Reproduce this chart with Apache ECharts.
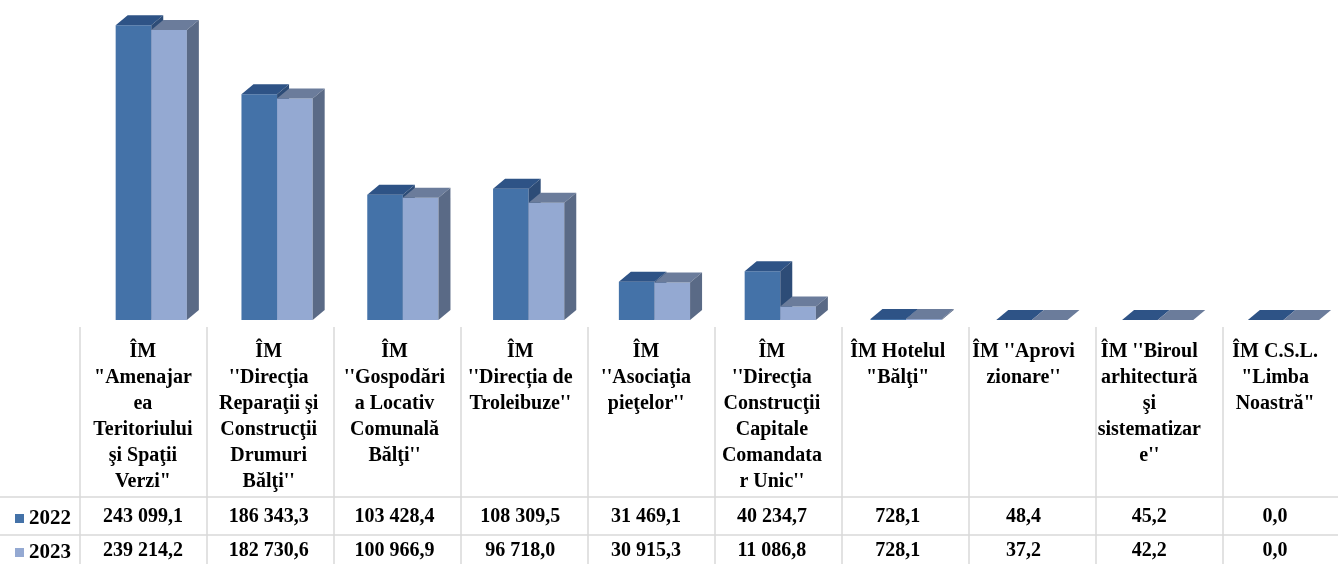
<!DOCTYPE html>
<html><head><meta charset="utf-8">
<script src="https://cdn.jsdelivr.net/npm/echarts@6/dist/echarts.min.js"></script>
<style>html,body{margin:0;padding:0;background:#fff}#c{width:1338px;height:564px}</style>
</head><body><div id="c"></div>
<script>
const categories = [
  'ÎM\n"Amenajar\nea\nTeritoriului\nşi Spaţii\nVerzi"',
  "ÎM\n''Direcţia\nReparaţii şi\nConstrucţii\nDrumuri\nBălţi''",
  "ÎM\n''Gospodări\na Locativ\nComunală\nBălţi''",
  "ÎM\n''Direcția de\nTroleibuze''",
  "ÎM\n''Asociaţia\npieţelor''",
  "ÎM\n''Direcţia\nConstrucţii\nCapitale\nComandata\nr Unic''",
  'ÎM Hotelul\n"Bălţi"',
  "ÎM ''Aprovi\nzionare''",
  "ÎM ''Biroul\narhitectură\nşi\nsistematizar\ne''",
  'ÎM C.S.L.\n"Limba\nNoastră"'
];
const seriesNames = ['2022', '2023'];
const values2022 = [243099.1, 186343.3, 103428.4, 108309.5, 31469.1, 40234.7, 728.1, 48.4, 45.2, 0.0];
const values2023 = [239214.2, 182730.6, 100966.9, 96718.0, 30915.3, 11086.8, 728.1, 37.2, 42.2, 0.0];

const frontColors = ['#4472A8', '#94A9D2'];
const topColors = ['#2E5386', '#6B7C9B'];
const sideColors = ['#2D4C77', '#5A6A86'];

function fmt(v) {
  const s = v.toFixed(1).split('.');
  return s[0].replace(/\B(?=(\d{3})+(?!\d))/g, ' ') + ',' + s[1];
}

const GL = 80, GT = 17, GW = 1270, GH = 303;
const DX = 12, DY = 10;
const FONT = 'Liberation Serif, Times New Roman, serif';

function render(si) {
  return function (params, api) {
    const cat = api.value(0);
    const v = api.value(1);
    const base = api.coord([cat, 0]);
    const top = api.coord([cat, v]);
    const band = api.size([1, 0])[0];
    const w = band * 0.283;
    const x0 = base[0] - band * 0.2165 + si * w;
    const yb = base[1], yt = top[1];
    return {
      type: 'group',
      children: [
        { type: 'rect', shape: { x: x0, y: yt, width: w, height: yb - yt }, style: { fill: frontColors[si] } },
        { type: 'polygon', shape: { points: [[x0, yt], [x0 + w, yt], [x0 + w + DX, yt - DY], [x0 + DX, yt - DY]] }, style: { fill: topColors[si] } },
        { type: 'polygon', shape: { points: [[x0 + w, yt], [x0 + w + DX, yt - DY], [x0 + w + DX, yb - DY], [x0 + w, yb]] }, style: { fill: sideColors[si] } }
      ]
    };
  };
}

const rows = [values2022, values2023];
const lineColor = '#D9D9D9';
const graphics = [];
const colW = GW / categories.length;
for (let k = 0; k < categories.length; k++) {
  const x = GL + colW * k;
  graphics.push({ type: 'line', shape: { x1: x, y1: 327, x2: x, y2: 564 }, style: { stroke: lineColor, lineWidth: 1.5 }, silent: true });
}
[497, 535].forEach(y => graphics.push({ type: 'line', shape: { x1: 0, y1: y, x2: 1338, y2: y }, style: { stroke: lineColor, lineWidth: 1.5 }, silent: true }));

const labelBase = { fontFamily: FONT, fontWeight: 'bold', fontSize: 20, color: '#000' };
const legendTops = [508, 542];

const chart = echarts.init(document.getElementById('c'), null, { renderer: 'canvas' });
chart.setOption({
  animation: false,
  backgroundColor: '#fff',
  grid: { left: GL, top: GT, width: GW, height: GH },
  legend: seriesNames.map((n, i) => ({
    left: 15, top: legendTops[i], itemWidth: 9, itemHeight: 9, padding: [0, 0, 0, 0],
    icon: 'rect', data: [n], selectedMode: false,
    textStyle: { fontFamily: FONT, fontWeight: 'bold', fontSize: 21, color: '#000' }
  })),
  xAxis: [
    { type: 'category', data: categories, axisLine: { show: false }, axisTick: { show: false },
      axisLabel: Object.assign({ interval: 0, margin: 19, lineHeight: 26, verticalAlign: 'top', align: 'center' }, labelBase) },
    { type: 'category', data: categories, position: 'bottom', offset: 197, axisLine: { show: false }, axisTick: { show: false },
      axisLabel: Object.assign({ interval: 0, margin: 0, verticalAlign: 'middle', formatter: (val, i) => fmt(rows[0][i]) }, labelBase) },
    { type: 'category', data: categories, position: 'bottom', offset: 231, axisLine: { show: false }, axisTick: { show: false },
      axisLabel: Object.assign({ interval: 0, margin: 0, verticalAlign: 'middle', formatter: (val, i) => fmt(rows[1][i]) }, labelBase) }
  ],
  yAxis: { type: 'value', min: 0, max: 250000, show: false },
  series: seriesNames.map((name, si) => ({
    name: name, type: 'custom', xAxisIndex: 0, yAxisIndex: 0,
    itemStyle: { color: frontColors[si] },
    renderItem: render(si),
    data: rows[si].map((v, i) => [i, v])
  })),
  graphic: graphics
});
</script></body></html>
